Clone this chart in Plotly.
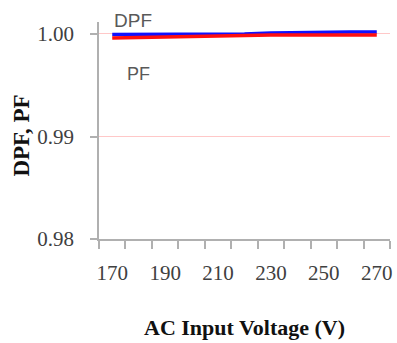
import plotly.graph_objects as go

voltage = [170, 180, 190, 200, 210, 220, 230, 240, 250, 260, 270]
dpf = [0.99995, 0.99995, 0.99997, 0.99998, 0.99998, 1.0000, 1.0001, 1.00015, 1.0002, 1.0002, 1.0002]
pf = [0.9996, 0.99965, 0.9997, 0.9998, 0.9998, 0.99985, 0.9999, 0.9999, 0.9999, 0.9999, 0.9999]

x_tick_labels = [170, 190, 210, 230, 250, 270]
x_bounds = [165 + 10 * i for i in range(12)]
y_ticks = [0.98, 0.99, 1.00]

fig = go.Figure()
fig.add_trace(go.Scatter(x=voltage, y=dpf, mode="lines", name="DPF",
                         line=dict(color="#1010ff", width=3.5)))
fig.add_trace(go.Scatter(x=voltage, y=pf, mode="lines", name="PF",
                         line=dict(color="#ff1010", width=3.5)))

serif = "Liberation Serif, Times New Roman, serif"
sans = "Liberation Sans, Arial, sans-serif"

W, H = 397, 343
l, r, t, b = 99, 5, 22, 104
pw, ph = W - l - r, H - t - b

def px(x, y):
    return (x - l) / pw, 1 - (y - t) / ph

ann_specs = [
    ("DPF", 133, 20, dict(family=sans, size=19, color="#595959"), 0),
    ("PF", 139, 74, dict(family=sans, size=18, color="#595959"), 0),
    ("<b>AC Input Voltage (V)</b>", 246, 327, dict(family=serif, size=22, color="#111111"), 0),
    ("<b>DPF, PF</b>", 20, 136, dict(family=serif, size=23, color="#111111"), -90),
]
annotations = []
for text, x, y, font, ang in ann_specs:
    ax, ay = px(x, y)
    annotations.append(dict(text=text, x=ax, y=ay, xref="paper", yref="paper",
                            showarrow=False, font=font, textangle=ang,
                            xanchor="center", yanchor="middle"))

fig.update_layout(
    width=W, height=H,
    margin=dict(l=l, r=r, t=t, b=b),
    paper_bgcolor="white", plot_bgcolor="white",
    showlegend=False,
    xaxis=dict(
        range=[165, 275], tickvals=x_tick_labels, ticktext=[str(v) for v in x_tick_labels],
        ticks="", showgrid=False, zeroline=False,
        showline=True, linecolor="#b0b0b0", linewidth=1.5,
        tickfont=dict(family=serif, size=21, color="#404040"),
        ticklabelstandoff=14,
        minor=dict(tickvals=x_bounds, ticks="outside", ticklen=8, tickcolor="#b0b0b0",
                   tickwidth=1.5, showgrid=False),
    ),
    yaxis=dict(
        range=[0.98, 1.00117], tickvals=y_ticks, ticktext=["0.98", "0.99", "1.00"],
        ticks="outside", ticklen=7, tickcolor="#b0b0b0", tickwidth=1.5,
        showgrid=True, gridcolor="#ffc8c8", gridwidth=1, zeroline=False,
        showline=True, linecolor="#b0b0b0", linewidth=1.5,
        tickfont=dict(family=serif, size=21, color="#404040"),
        ticklabelstandoff=12,
    ),
    annotations=annotations,
)

fig.write_html("out.html", config={"displayModeBar": False},
               post_script="document.body.style.margin='0';")
